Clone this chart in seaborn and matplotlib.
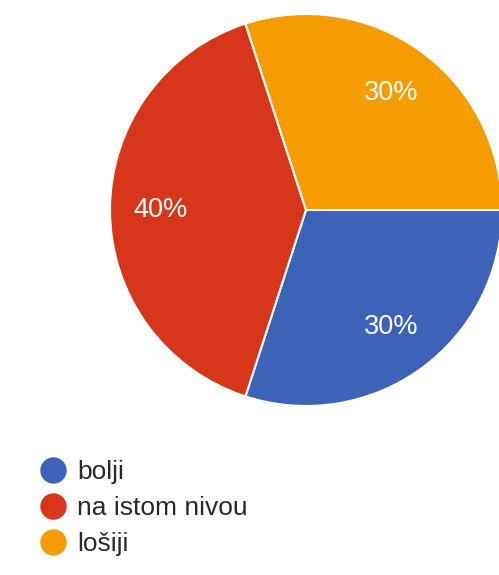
import matplotlib
matplotlib.use('Agg')
import matplotlib.pyplot as plt
from matplotlib.lines import Line2D
import seaborn as sns

# Data
categories = ['bolji', 'na istom nivou', 'lošiji']
shares = [30, 40, 30]
colors = ['#3d63b8', '#d8361a', '#f49c00']

sns.set_theme(style='white')
plt.rcParams['font.family'] = ['Liberation Sans', 'DejaVu Sans']
palette = sns.color_palette(colors)

fig = plt.figure(figsize=(4.99, 5.75), dpi=100)
W, H = 499, 575
cx, cy, r = 306, 210, 196
ax = fig.add_axes([(cx - r) / W, 1 - (cy + r) / H, 2 * r / W, 2 * r / H])

wedges, texts, autotexts = ax.pie(
    shares, colors=palette, startangle=0, counterclock=False,
    autopct='%1.0f%%', pctdistance=0.74,
    wedgeprops=dict(edgecolor='white', linewidth=1.5),
    textprops=dict(color='white', fontsize=19.5),
)
ax.set_xlim(-1, 1)
ax.set_ylim(-1, 1)
ax.set_aspect('equal')
ax.axis('off')

# Legend with round markers
handles = [Line2D([0], [0], marker='o', linestyle='', markersize=18,
                  markerfacecolor=c, markeredgecolor=c) for c in palette]
fig.legend(handles, categories, loc='upper left',
           bbox_to_anchor=(40 / W, 1 - 460 / H), frameon=False,
           fontsize=19, labelcolor='#2a2a2a', handlelength=1.0,
           handletextpad=0.4, labelspacing=0.45, borderpad=0,
           borderaxespad=0)

plt.savefig('out.png', dpi=100)
